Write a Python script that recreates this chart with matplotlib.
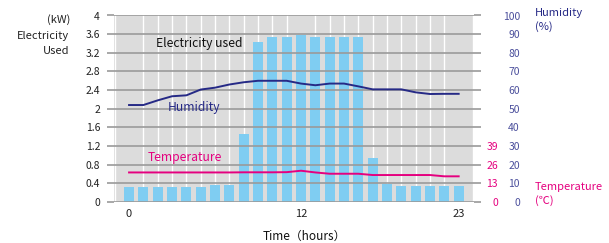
import matplotlib.pyplot as plt
import numpy as np

plt.rcParams['font.family'] = ['Noto Sans CJK JP', 'DejaVu Sans']

hours = np.arange(24)
power = [0.33, 0.33, 0.33, 0.33, 0.33, 0.33, 0.36, 0.36, 1.45, 3.44, 3.53, 3.53,
         3.58, 3.53, 3.53, 3.53, 3.53, 0.94, 0.39, 0.35, 0.35, 0.35, 0.35, 0.35]
humidity = [52, 52, 54.5, 56.7, 57.2, 60.3, 61.3, 63, 64.2, 65, 65, 65,
            63.5, 62.6, 63.5, 63.5, 62, 60.4, 60.4, 60.4, 58.8, 57.9, 58, 58]
temperature = [20.6, 20.6, 20.6, 20.6, 20.6, 20.6, 20.6, 20.6, 20.7, 20.7, 20.7, 20.8,
               21.8, 20.6, 19.7, 19.7, 19.7, 18.8, 18.8, 18.8, 18.8, 18.8, 17.9, 17.9]
power_ticks = np.round(np.arange(0, 4.01, 0.4), 1)
power_labels = ['0', '0.4', '0.8', '1.2', '1.6', '2', '2.4', '2.8', '3.2', '3.6', '4']
hum_ticks = np.arange(0, 101, 10)
temp_ticks = [0, 13, 26, 39]
x_ticks = [0, 12, 23]

W, H = 609, 243
BAR = '#7fcdf2'
HUM = '#262a86'
HUM_LBL = '#4b4f9c'
TEMP = '#e5007f'
GRID = '#9a9a9a'

fig = plt.figure(figsize=(W / 100, H / 100), dpi=100)
ax = fig.add_axes([114 / W, (H - 202) / H, 360 / W, 186.5 / H])
ax.set_facecolor('#dcdcdc')
for s in ax.spines.values():
    s.set_visible(False)

ax.bar(hours, power, width=0.7, color=BAR, zorder=2)
ax.set_xlim(-1.05, 24.07)
ax.set_ylim(0, 4)
ax.set_yticks(power_ticks)
ax.set_yticklabels(power_labels)
ax.set_xticks(x_ticks)
ax.set_xticks(np.arange(-1, 25), minor=True)
ax.set_axisbelow(True)
ax.grid(which='minor', axis='x', color='white', lw=1.0)
ax.tick_params(axis='y', direction='out', length=5, width=1.2, color=GRID,
               pad=5, labelsize=7.5, labelcolor='#222222')
ax.tick_params(axis='x', which='major', length=0, pad=5, labelsize=8, labelcolor='#222222')
ax.tick_params(axis='x', which='minor', length=0)

ax2 = ax.twinx()
ax2.set_ylim(0, 100)
ax2.set_yticks(hum_ticks)
for s in ax2.spines.values():
    s.set_visible(False)
ax2.grid(axis='y', color=GRID, lw=1.2)
ax2.tick_params(axis='y', direction='out', length=5, width=1.2, color=GRID,
                pad=28, labelsize=7.5, labelcolor=HUM_LBL)
for lbl in ax2.get_yticklabels():
    lbl.set_horizontalalignment('right')
ax2.plot(hours, humidity, color=HUM, lw=1.4, zorder=4)

ax3 = ax.twinx()
ax3.set_ylim(0, 130)
ax3.set_yticks(temp_ticks)
for s in ax3.spines.values():
    s.set_visible(False)
ax3.tick_params(axis='y', length=0, pad=17.3, labelsize=7.5, labelcolor=TEMP)
for lbl in ax3.get_yticklabels():
    lbl.set_horizontalalignment('right')
ax3.plot(hours, temperature, color=TEMP, lw=1.4, zorder=4)


def ftext(x, y, s, **kw):
    fig.text(x / W, 1 - y / H, s, va='center', **kw)


ftext(70, 20, '(kW)', ha='right', fontsize=8, color='#222222')
ftext(69, 36, 'Electricity', ha='right', fontsize=8, color='#222222')
ftext(69, 51, 'Used', ha='right', fontsize=8, color='#222222')
ftext(535, 13, 'Humidity', ha='left', fontsize=8, color=HUM)
ftext(535, 27, '(%)', ha='left', fontsize=8, color=HUM)
ftext(535, 187, 'Temperature', ha='left', fontsize=8, color=TEMP)
ftext(535, 201, '(℃)', ha='left', fontsize=8, color=TEMP)
ftext(156, 43.5, 'Electricity used', ha='left', fontsize=8.7, color='#111111')
ftext(168, 108, 'Humidity', ha='left', fontsize=8.7, color=HUM)
ftext(148, 157, 'Temperature', ha='left', fontsize=8.7, color=TEMP)
ftext(304, 236, 'Time（hours）', ha='center', fontsize=8.5, color='#111111')

fig.savefig('out.png', dpi=100)
